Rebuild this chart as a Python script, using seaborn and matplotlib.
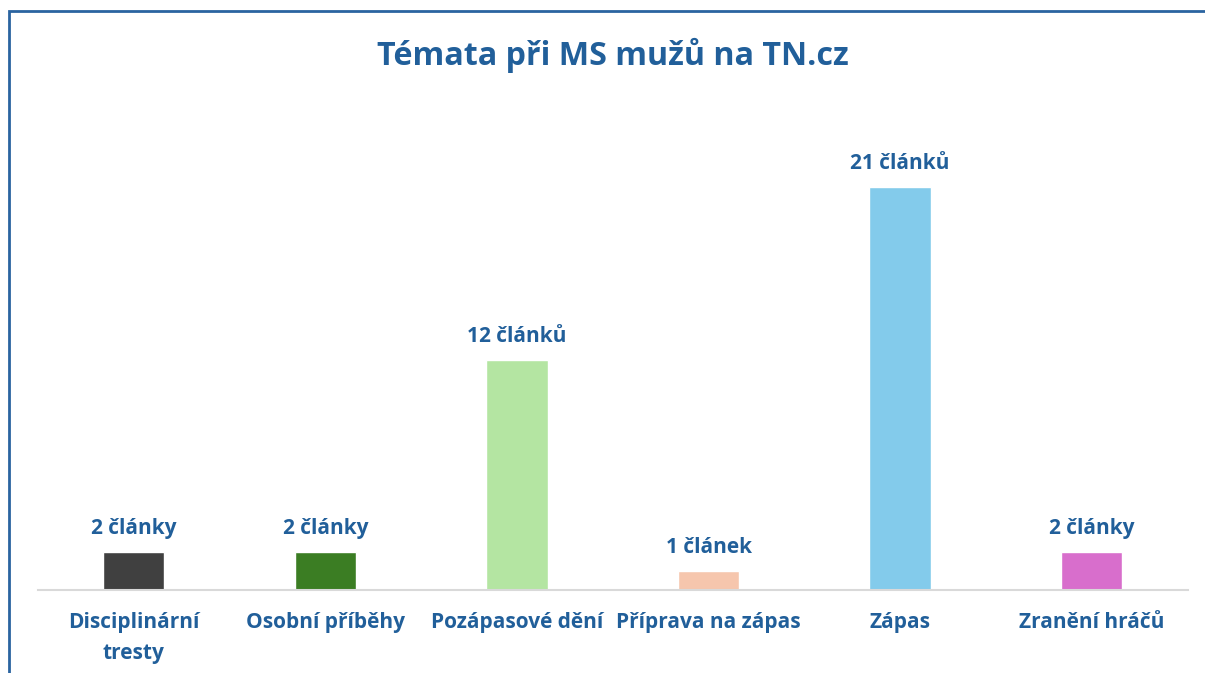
import numpy as np
import pandas as pd
import matplotlib
matplotlib.use("Agg")
import matplotlib.pyplot as plt
import seaborn as sns
from matplotlib.patches import Rectangle

# data
categories = ["Disciplinární\ntresty", "Osobní příběhy", "Pozápasové dění",
              "Příprava na zápas", "Zápas", "Zranění hráčů"]
counts = [2, 2, 12, 1, 21, 2]
value_labels = ["2 články", "2 články", "12 článků", "1 článek", "21 článků", "2 články"]
colors = ["#404040", "#3b7d23", "#b4e5a2", "#f6c6ad", "#83cbeb", "#d86ecc"]

df = pd.DataFrame({"tema": categories, "pocet": counts})

sns.set_style("white")
plt.rcParams["font.family"] = ["Open Sans", "DejaVu Sans"]
blue = "#215f9a"

fig = plt.figure(figsize=(12.05, 6.73), dpi=100)
ax = fig.add_axes([0.0315, 0.1233, 0.954, 0.7132])

sns.barplot(data=df, x="tema", y="pocet", hue="tema", palette=colors,
            width=0.32, legend=False, ax=ax, saturation=1)

ax.set_ylim(0, 25)
ax.set_xlim(-0.5, 5.5)
ax.set_xlabel("")
ax.set_ylabel("")
ax.set_yticks([])
for s in ["top", "right", "left"]:
    ax.spines[s].set_visible(False)
ax.spines["bottom"].set_color("#d9d9d9")
ax.spines["bottom"].set_linewidth(1.5)
ax.tick_params(axis="x", length=0, pad=16, labelsize=15, labelcolor=blue)
for t in ax.get_xticklabels():
    t.set_fontweight("bold")
    t.set_linespacing(1.6)

# one container per hue level, in category order
for i, cont in enumerate(ax.containers):
    ax.bar_label(cont, labels=[value_labels[i]], padding=9, fontsize=15,
                 fontweight="bold", color=blue)

fig.text(613 / 1205, 1 - 55 / 673, "Témata při MS mužů na TN.cz", ha="center",
         va="center", fontsize=23.2, fontweight="bold", color=blue)

fig.patches.append(Rectangle((9 / 1205, -0.05), 1.05, 1 - 11 / 673 + 0.05,
                             transform=fig.transFigure, fill=False,
                             edgecolor="#2a64a0", linewidth=2))

fig.savefig("out.png", dpi=100)
